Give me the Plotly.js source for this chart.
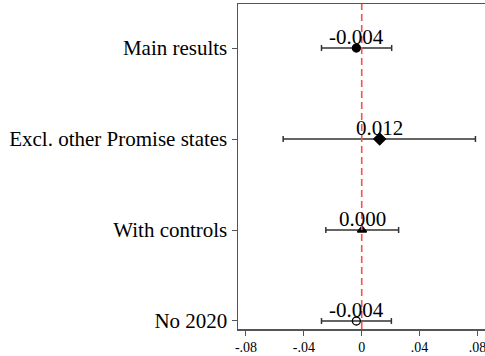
<!DOCTYPE html>
<html><head><meta charset="utf-8">
<script src="https://cdn.plot.ly/plotly-3.0.1.min.js"></script>
<style>html,body{margin:0;padding:0;background:#fff}#c{width:485px;height:356px}</style>
</head><body><div id="c"></div>
<script>
var categories = ["Main results", "Excl. other Promise states", "With controls", "No 2020"];
var estimates = [-0.0037, 0.0124, 0.0002, -0.0037];
var ciLow = [-0.0278, -0.0543, -0.0248, -0.0278];
var ciHigh = [0.0207, 0.0786, 0.0255, 0.0205];
var labels = ["-0.004", "0.012", "0.000", "-0.004"];
var symbols = ["circle", "diamond", "triangle-up", "circle-open"];
var xTicks = [-0.08, -0.04, 0, 0.04, 0.08];
var xTickText = ["-.08", "-.04", "0", ".04", ".08"];

var ypos = categories.map(function(_, i){ return i + 1; });
var traces = categories.map(function(c, i){
  return {
    type: 'scatter', mode: 'markers',
    x: [estimates[i]], y: [ypos[i]],
    marker: {symbol: symbols[i], size: symbols[i]==='diamond'?9:8, color: '#000', line: {color: '#000', width: 1.3}},
    error_x: {type: 'data', symmetric: false, array: [ciHigh[i]-estimates[i]], arrayminus: [estimates[i]-ciLow[i]], color: '#333', thickness: 1.5, width: 3},
    cliponaxis: false, showlegend: false, hoverinfo: 'skip'
  };
});
var annotations = categories.map(function(c, i){
  return {x: estimates[i], y: ypos[i], xref: 'x', yref: 'y', text: labels[i], showarrow: false,
    xanchor: 'center', yanchor: 'bottom', yshift: -2, borderpad: 0,
    font: {family: 'Liberation Serif', size: 21, color: '#000'}};
});

var layout = {
  width: 485, height: 356,
  margin: {l: 238, r: 0, t: 4, b: 27},
  paper_bgcolor: '#fff', plot_bgcolor: '#fff',
  font: {family: 'Liberation Serif', color: '#000'},
  xaxis: {range: [-0.0855, 0.0852], tickvals: xTicks, ticktext: xTickText, showgrid: false, zeroline: false,
    showline: true, linecolor: '#555', linewidth: 1.5, mirror: true, ticks: 'outside', ticklen: 5, tickcolor: '#555',
    ticklabeloverflow: 'allow', tickfont: {family: 'Liberation Serif', size: 14, color: '#000'}},
  yaxis: {range: [4.088, 0.516], tickvals: ypos, ticktext: categories, showgrid: false, zeroline: false,
    showline: true, linecolor: '#555', linewidth: 1.5, ticks: 'outside', ticklen: 5, tickcolor: '#555',
    tickfont: {family: 'Liberation Serif', size: 21, color: '#000'}},
  annotations: annotations,
  shapes: [{type: 'line', xref: 'x', yref: 'paper', x0: 0, x1: 0, y0: 0, y1: 1, layer: 'above',
    line: {color: '#ff4d4d', width: 1.6, dash: '7px,4px'}}]
};
Plotly.newPlot('c', traces, layout, {displayModeBar: false, staticPlot: true});
</script></body></html>
